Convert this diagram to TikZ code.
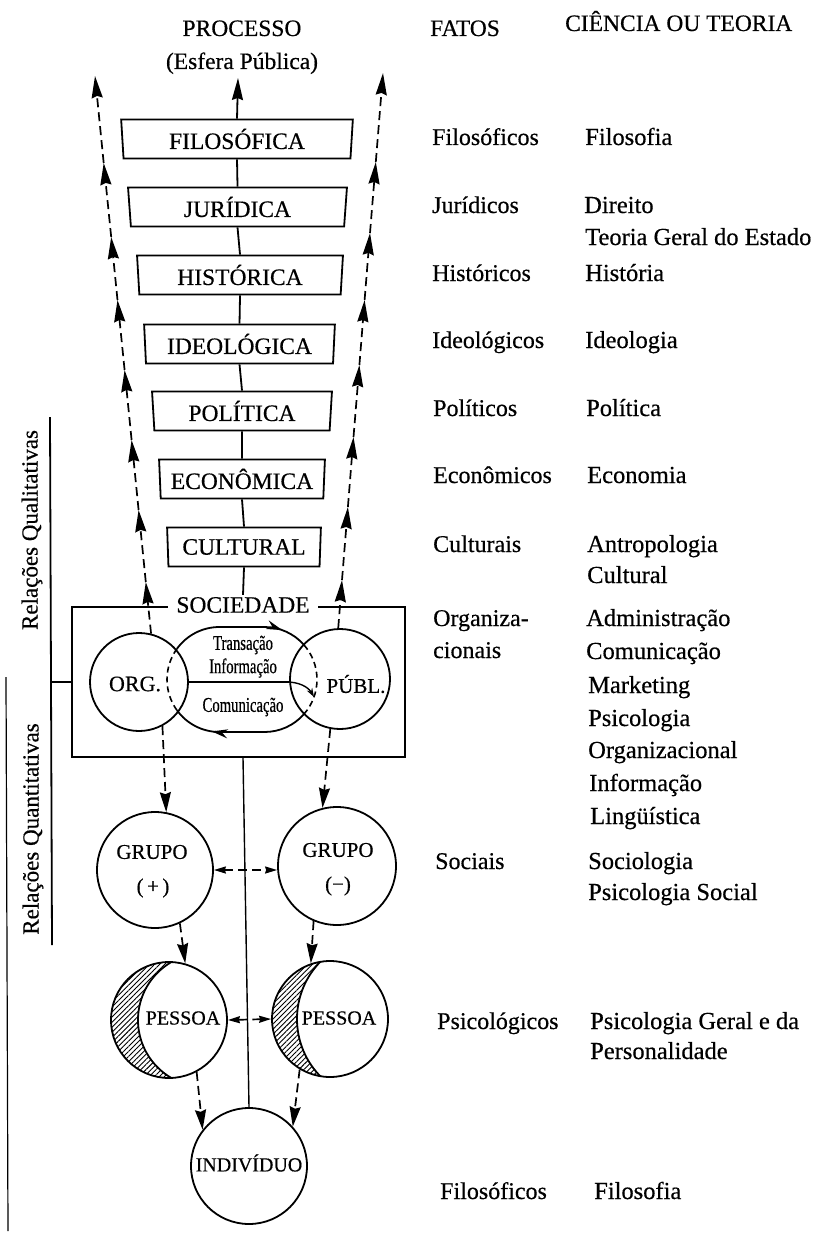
\documentclass[tikz,border=0pt]{standalone}
\usepackage{fontspec}
\setmainfont[FakeBold=0.45]{Liberation Serif}
\newfontfamily\condfam[FakeStretch=0.7,FakeBold=0.45]{Liberation Serif}
\usetikzlibrary{arrows.meta,shapes.geometric,patterns.meta,decorations.markings,calc}
\newcommand{\szHead}{\fontsize{23.5}{28}\selectfont}
\newcommand{\szBx}{\fontsize{23.5}{28}\selectfont}
\newcommand{\szCirc}{\fontsize{21}{25}\selectfont}
\newcommand{\szSmall}{\fontsize{20}{24}\selectfont}
\newcommand{\szFat}{\fontsize{24}{28}\selectfont}
\newcommand{\szSci}{\fontsize{24.5}{28}\selectfont}
\newcommand{\szCond}{\condfam\fontsize{21}{24}\selectfont}
\begin{document}
\begin{tikzpicture}[x=1pt,y=-1pt,
  ln/.style={line width=1.8pt},
  tbox/.style={draw, line width=1.8pt, trapezium, trapezium left angle=94, trapezium right angle=94,
    trapezium stretches=true, minimum height=39pt, inner sep=0pt, font=\szBx},
  circ/.style={draw, circle, line width=1.8pt, inner sep=0pt},
  dsh/.style={line width=1.7pt, dash pattern=on 9pt off 5pt},
  bigtip/.style={-{Stealth[length=22pt,width=11pt,inset=2pt]}},
  medtip/.style={-{Stealth[length=20pt,width=11pt,inset=2pt]}},
  twotip/.style={{Stealth[length=12pt,width=7pt,inset=1pt]}-{Stealth[length=12pt,width=7pt,inset=1pt]}},
  hd/.style={inner sep=0pt, font=\szHead},
  fat/.style={inner sep=0pt, anchor=base west, font=\szFat},
  sci/.style={inner sep=0pt, anchor=base west, font=\szSci},
  lab/.style={inner sep=0pt}
]
\fill[white] (0,0) rectangle (825,1236);
\useasboundingbox (0,0) rectangle (825,1236);

% headers
\node[hd, anchor=base] (proc) at (242,36) {PROCESSO};
\node[hd, anchor=base] (esf) at (242,69) {(Esfera Pública)};
\node[hd, anchor=base west] (fatos) at (430,36) {FATOS};
\node[hd, anchor=base west] (cien) at (565,31) {CIÊNCIA OU TEORIA};

% boxes
\node[tbox, minimum width=232pt] (filo) at (237,139) {FILOSÓFICA};
\node[tbox, minimum width=219pt] (jur) at (237.5,207) {JURÍDICA};
\node[tbox, minimum width=206pt] (hist) at (240,275) {HISTÓRICA};
\node[tbox, minimum width=191pt] (ideo) at (239.5,344) {IDEOLÓGICA};
\node[tbox, minimum width=180pt] (poli) at (242,411) {POLÍTICA};
\node[tbox, minimum width=166pt] (econ) at (242,479) {ECONÔMICA};
\node[tbox, minimum width=154pt] (cult) at (244,547) {CULTURAL};

% society box
\node[draw, ln, minimum width=333pt, minimum height=150pt, inner sep=0pt] (socbox) at (238.5,682) {};
\node[fill=white, inner xsep=8pt, inner ysep=2pt, font=\szBx] (soclab) at (243,605) {SOCIEDADE};

% centre line
\coordinate (ctop) at (238,78);
\draw[ln, bigtip] (filo.north) -- (ctop);
\draw[ln] (filo.south) -- (jur.north);
\draw[ln] (jur.south) -- (hist.north);
\draw[ln] (hist.south) -- (ideo.north);
\draw[ln] (ideo.south) -- (poli.north);
\draw[ln] (poli.south) -- (econ.north);
\draw[ln] (econ.south) -- (cult.north);
\draw[ln] (cult.south) -- (soclab.north);

% circles
\node[circ, minimum size=98pt] (org) at (139,682) {};
\node[lab, font=\fontsize{22}{26}\selectfont] (orgt) at (135,684) {ORG.};
\node[circ, minimum size=100pt] (publ) at (340,679) {};
\node[lab, font=\szCirc] (publt) at (356,684) {PÚBL.};

\node[circ, minimum size=116pt] (gp) at (155,870) {};
\node[lab, font=\szCirc] (gpt) at (152,852) {GRUPO};
\node[lab, font=\szCirc] (gps) at (153,888) {(\,+\,)};
\node[circ, minimum size=118pt] (gm) at (337,866) {};
\node[lab, font=\szCirc] (gmt) at (338,850) {GRUPO};
\node[lab, font=\szCirc] (gms) at (338,886) {(−)};

\node[circ, minimum size=116pt] (pp) at (169,1020) {};
\node[circ, minimum size=116pt] (pm) at (330,1019) {};
\begin{scope}
  \clip (pp.center) circle[radius=58pt];
  \fill[pattern={Lines[angle=45,distance=3.6pt,line width=0.9pt]}, even odd rule]
    (pp.center) circle[radius=58pt] ($(pp.center)+(36,0)$) circle[radius=67pt];
  \draw[ln] ($(pp.center)+(36,0)$) circle[radius=67pt];
\end{scope}
\begin{scope}
  \clip (pm.center) circle[radius=58pt];
  \fill[pattern={Lines[angle=45,distance=3.6pt,line width=0.9pt]}, even odd rule]
    (pm.center) circle[radius=58pt] ($(pm.center)+(49,0)$) circle[radius=82pt];
  \draw[ln] ($(pm.center)+(49,0)$) circle[radius=82pt];
\end{scope}
\node[lab, font=\szSmall] (ppt) at (183,1018) {PESSOA};
\node[lab, font=\szSmall] (pmt) at (339,1018) {PESSOA};

\node[circ, minimum size=116pt] (ind) at (249,1166) {};
\node[lab, font=\szSmall] (indt) at (249,1163) {INDIVÍDUO};

% stadium between ORG and PUBL
\coordinate (A) at (219.5,679.5);
\coordinate (B) at (264.5,679.5);
\draw[ln, postaction={decorate}, decoration={markings, mark=at position 0.81 with {\arrow{Stealth[length=16pt,width=9pt]}}}]
  ($(A)+(216:52.5)$) arc[start angle=216,end angle=270,radius=52.5] -- ($(B)+(0,-52.5)$)
  arc[start angle=270,end angle=318.7,radius=52.5];
\draw[ln, postaction={decorate}, decoration={markings, mark=at position 0.70 with {\arrow{Stealth[length=16pt,width=9pt]}}}]
  ($(B)+(41.3:52.5)$) arc[start angle=41.3,end angle=90,radius=52.5] -- ($(A)+(0,52.5)$)
  arc[start angle=90,end angle=144,radius=52.5];
\draw[line width=1.6pt, dash pattern=on 6pt off 4pt] ($(A)+(144:52.5)$) arc[start angle=144,end angle=216,radius=52.5];
\draw[line width=1.6pt, dash pattern=on 6pt off 4pt] ($(B)+(-41.3:52.5)$) arc[start angle=-41.3,end angle=41.3,radius=52.5];
\draw[ln] (org.east) -- (org.east -| publ.west);
\coordinate (curvEnd) at (314,697);
\draw[line width=1.4pt, -{Stealth[length=9pt,width=6pt]}] (org.east -| publ.west) .. controls (304,683) and (310,690) .. (curvEnd);
\node[lab, font=\szCond] (t1) at (243,645) {Transação};
\node[lab, font=\szCond] (t2) at (243,668) {Informação};
\node[lab, font=\szCond] (t3) at (243,707) {Comunicação};

% left chain
\coordinate (L1) at (145.8,582);
\coordinate (L2) at (138.6,510);
\coordinate (L3) at (131.6,440);
\coordinate (L4) at (124.6,370);
\coordinate (L5) at (117.5,300);
\coordinate (L6) at (111.2,237);
\coordinate (L7) at (103.7,163);
\coordinate (L8) at (95,76);
\draw[dsh, bigtip] (org.76) -- (L1);
\draw[dsh, bigtip] (L1) -- (L2);
\draw[dsh, bigtip] (L2) -- (L3);
\draw[dsh, bigtip] (L3) -- (L4);
\draw[dsh, bigtip] (L4) -- (L5);
\draw[dsh, bigtip] (L5) -- (L6);
\draw[dsh, bigtip] (L6) -- (L7);
\draw[dsh, bigtip] (L7) -- (L8);
% right chain
\coordinate (R1) at (342,580);
\coordinate (R2) at (347.9,507);
\coordinate (R3) at (353.5,437);
\coordinate (R4) at (359.4,365);
\coordinate (R5) at (364.6,300);
\coordinate (R6) at (370,233);
\coordinate (R7) at (375.8,162);
\coordinate (R8) at (383,73);
\draw[dsh, bigtip] (publ.92) -- (R1);
\draw[dsh, bigtip] (R1) -- (R2);
\draw[dsh, bigtip] (R2) -- (R3);
\draw[dsh, bigtip] (R3) -- (R4);
\draw[dsh, bigtip] (R4) -- (R5);
\draw[dsh, bigtip] (R5) -- (R6);
\draw[dsh, bigtip] (R6) -- (R7);
\draw[dsh, bigtip] (R7) -- (R8);

% downward connectors
\draw[dsh, medtip] (org.-62) -- (gp.79);
\draw[dsh, medtip] (publ.-101) -- (gm.104);
\draw[dsh, twotip] (gp.east) -- (gp.east -| gm.west);
\draw[dsh, medtip] (gp.-65) -- (pp.74);
\draw[dsh, medtip] (gm.-113) -- (pm.109);
\draw[dsh, twotip] (pp.east) -- (pm.west);
\draw[dsh, medtip] (pp.-62) -- (ind.142);
\draw[dsh, medtip] (pm.-121) -- (ind.42);
\draw[line width=1.4pt] (soclab.south |- socbox.south) -- (ind.north);

% left bracket and labels
\coordinate (brT) at (50,417);
\coordinate (brB) at (52,945);
\coordinate (brM) at (51,682);
\draw[ln] (brT) -- (brB);
\draw[ln] (brM) -- (brM -| socbox.west);
\coordinate (edgeT) at (6,677);
\coordinate (edgeB) at (8,1231);
\draw[line width=1.2pt] (edgeT) -- (edgeB);
\node[inner sep=0pt, rotate=90, anchor=base, font=\fontsize{23}{27}\selectfont] (relql) at (37.5,530) {Relações Qualitativas};
\node[inner sep=0pt, rotate=90, anchor=base, font=\fontsize{23}{27}\selectfont] (relqt) at (38.5,829) {Relações Quantitativas};

% right columns
\node[fat] (f1) at (432,145) {Filosóficos};
\node[fat] (f2) at (432,213) {Jurídicos};
\node[fat] (f3) at (432,281) {Históricos};
\node[fat] (f4) at (432,348) {Ideológicos};
\node[fat] (f5) at (433,416) {Políticos};
\node[fat] (f6) at (433,483) {Econômicos};
\node[fat] (f7) at (433,552) {Culturais};
\node[fat] (f8) at (433,626) {Organiza-};
\node[fat] (f9) at (433,658) {cionais};
\node[fat] (f10) at (435,869) {Sociais};
\node[fat] (f11) at (437,1029) {Psicológicos};
\node[fat] (f12) at (440,1199) {Filosóficos};

\node[sci] (s1) at (585,145) {Filosofia};
\node[sci] (s2) at (584,213) {Direito};
\node[sci] (s3) at (585,245) {Teoria Geral do Estado};
\node[sci] (s4) at (585,281) {História};
\node[sci] (s5) at (585,348) {Ideologia};
\node[sci] (s6) at (586,416) {Política};
\node[sci] (s7) at (587,483) {Economia};
\node[sci] (s8) at (587,552) {Antropologia};
\node[sci] (s9) at (587,583) {Cultural};
\node[sci] (s10) at (586,626) {Administração};
\node[sci] (s11) at (586,659) {Comunicação};
\node[sci] (s12) at (588,693) {Marketing};
\node[sci] (s13) at (588,726) {Psicologia};
\node[sci] (s14) at (588,758) {Organizacional};
\node[sci] (s15) at (589,791) {Informação};
\node[sci] (s16) at (590,824) {Lingüística};
\node[sci] (s17) at (588,869) {Sociologia};
\node[sci] (s18) at (588,900) {Psicologia Social};
\node[sci] (s19) at (590,1029) {Psicologia Geral e da};
\node[sci] (s20) at (590,1059) {Personalidade};
\node[sci] (s21) at (594,1199) {Filosofia};
\end{tikzpicture}
\end{document}
